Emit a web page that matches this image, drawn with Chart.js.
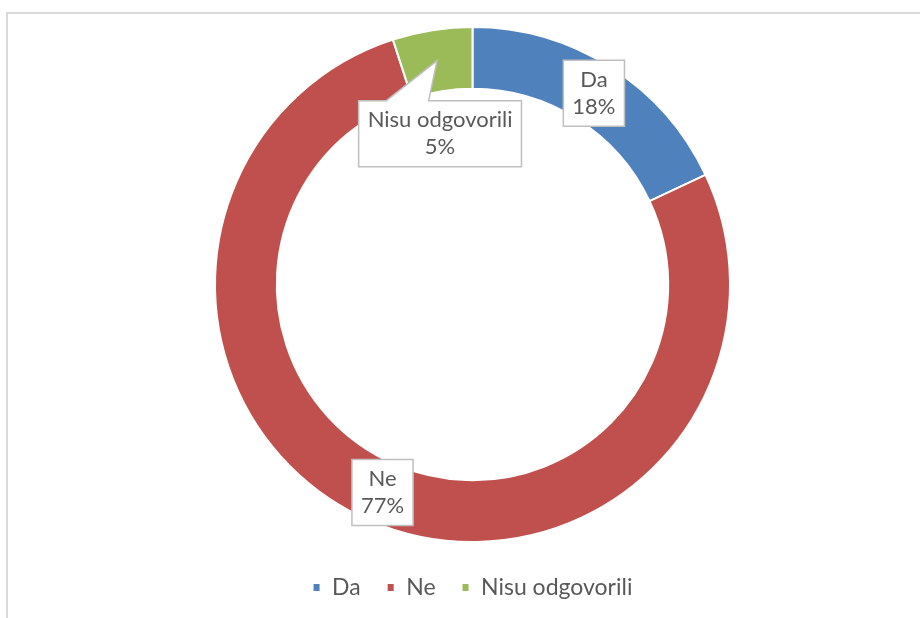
<!DOCTYPE html>
<html>
<head>
<meta charset="utf-8">
<script src="https://cdn.jsdelivr.net/npm/chart.js@4"></script>
<style>
  html, body { margin: 0; padding: 0; background: #fff; }
  #wrap { position: relative; width: 920px; height: 618px; overflow: hidden; }
  #frame { position: absolute; left: 6px; top: 12px; width: 1000px; height: 1000px;
           border-left: 2px solid #d9d9d9; border-top: 2px solid #d9d9d9; }
  canvas { position: absolute; left: 0; top: 0; }
</style>
</head>
<body>
<div id="wrap">
  <div id="frame"></div>
  <canvas id="c" width="920" height="618"></canvas>
</div>
<script>
// dati
const categories = ['Da', 'Ne', 'Nisu odgovorili'];
const shares = [18, 77, 5];
const colours = ['#4F81BD', '#C0504D', '#9BBB59'];

const FAMILY = 'Lato, "Open Sans", sans-serif';
const TEXT = '#595959';

// etichette a riquadro (con "callout" per la fetta piccola)
const boxLabels = {
  id: 'boxLabels',
  afterDatasetsDraw(chart, args, o) {
    const ctx = chart.ctx;
    chart.getDatasetMeta(0).data.forEach((arc, i) => {
      const p = arc.tooltipPosition();
      const lines = [chart.data.labels[i], chart.data.datasets[0].data[i] + '%'];
      ctx.save();
      ctx.font = `${o.size}px ${FAMILY}`;
      const w = Math.max(...lines.map(t => ctx.measureText(t).width)) + o.padX * 2;
      const h = lines.length * o.lineH + o.padY * 2;
      const off = o.offsets[i];
      const cx = p.x + (off ? off.x : 0), cy = p.y + (off ? off.y : 0);
      const x0 = cx - w / 2, y0 = cy - h / 2;
      ctx.beginPath();
      if (off) {
        ctx.moveTo(x0, y0);
        ctx.lineTo(x0 + w * o.pointer[0], y0);
        ctx.lineTo(p.x, p.y);
        ctx.lineTo(x0 + w * o.pointer[1], y0);
        ctx.lineTo(x0 + w, y0);
        ctx.lineTo(x0 + w, y0 + h);
        ctx.lineTo(x0, y0 + h);
        ctx.closePath();
      } else {
        ctx.rect(x0, y0, w, h);
      }
      ctx.fillStyle = '#fff'; ctx.fill();
      ctx.strokeStyle = '#bfbfbf'; ctx.lineWidth = 1.5; ctx.stroke();
      ctx.fillStyle = TEXT; ctx.textAlign = 'center'; ctx.textBaseline = 'middle';
      lines.forEach((t, k) => ctx.fillText(t, cx, y0 + o.padY + o.lineH * (k + 0.5)));
      ctx.restore();
    });
  }
};

new Chart(document.getElementById('c'), {
  type: 'doughnut',
  data: {
    labels: categories,
    datasets: [{ data: shares, backgroundColor: colours, borderColor: '#fff',
                 borderWidth: 2, hoverOffset: 0 }]
  },
  options: {
    responsive: false, animation: false, cutout: '76%',
    layout: { padding: { left: 214, right: 189, top: 19, bottom: 9 } },
    plugins: {
      tooltip: { enabled: false },
      legend: {
        position: 'bottom',
        labels: { boxWidth: 8, boxHeight: 9, padding: 26, color: TEXT,
                  font: { family: FAMILY, size: 23 } }
      },
      boxLabels: { size: 22, padX: 9, padY: 6, lineH: 27, pointer: [0.17, 0.43],
                   offsets: { 2: { x: 3, y: 73 } } }
    }
  },
  plugins: [boxLabels]
});
</script>
</body>
</html>
